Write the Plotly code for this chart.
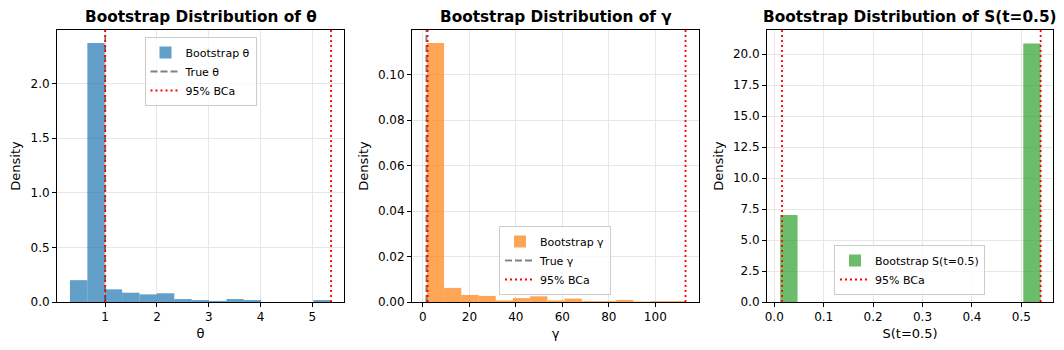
import plotly.graph_objects as go

# ---------------- data ----------------
# Panel 1: theta
theta_lo, theta_hi = 0.32, 5.355
theta_density = [0.20, 2.37, 0.116, 0.085, 0.070, 0.080, 0.027, 0.018, 0.010, 0.027, 0.018, 0.0, 0.0, 0.0, 0.018]
theta_true = 1.0
theta_bca = [1.0, 5.36]

# Panel 2: gamma
gamma_lo, gamma_hi = 1.7, 112.8
gamma_density = [0.1140, 0.0062, 0.0031, 0.0027, 0.0007, 0.0017, 0.0025, 0.0007, 0.0015, 0.0004, 0.0004, 0.0009, 0.0002, 0.0004, 0.0004]
gamma_true = 1.5
gamma_bca = [2.0, 113.0]

# Panel 3: S(t=0.5)
s_lo, s_hi = 0.012, 0.539
s_density = [7.02, 0, 0, 0, 0, 0, 0, 0, 0, 0, 0, 0, 0, 0, 20.86]
s_bca = [0.0157, 0.539]

n_bins = 15

panels = [
    dict(lo=theta_lo, hi=theta_hi, dens=theta_density, true=theta_true, bca=theta_bca,
         sym="θ", title="Bootstrap Distribution of θ", color="rgba(31,119,180,0.7)",
         xr=[0.07, 5.61], yr=[0, 2.49], xt=[1, 2, 3, 4, 5], xfmt="d",
         yt=[0, 0.5, 1.0, 1.5, 2.0], yfmt=".1f", dom=[57, 344],
         leg=dict(x=200.5, y=37, xanchor="center", yanchor="top")),
    dict(lo=gamma_lo, hi=gamma_hi, dens=gamma_density, true=gamma_true, bca=gamma_bca,
         sym="γ", title="Bootstrap Distribution of γ", color="rgba(255,127,14,0.7)",
         xr=[-4.7, 118.8], yr=[0, 0.1197], xt=[0, 20, 40, 60, 80, 100], xfmt="d",
         yt=[0, 0.02, 0.04, 0.06, 0.08, 0.10], yfmt=".2f", dom=[412, 699],
         leg=dict(x=555, y=295, xanchor="center", yanchor="bottom")),
    dict(lo=s_lo, hi=s_hi, dens=s_density, true=None, bca=s_bca,
         sym="S(t=0.5)", title="Bootstrap Distribution of S(t=0.5)", color="rgba(44,160,44,0.7)",
         xr=[-0.0147, 0.564], yr=[0, 21.94], xt=[0, 0.1, 0.2, 0.3, 0.4, 0.5], xfmt=".1f",
         yt=[0, 2.5, 5, 7.5, 10, 12.5, 15, 17.5, 20], yfmt=".1f", dom=[767, 1053],
         leg=dict(x=909.5, y=295, xanchor="center", yanchor="bottom")),
]

W, H = 1064, 350
L, R, T, B = 57, 1053, 30, 302   # plot area in pixels
PW, PH = R - L, B - T
FONT = "DejaVu Sans"


def px_x(px):
    return (px - L) / PW


def px_y(py):
    return (B - py) / PH


fig = go.Figure()
layout = dict(
    width=W, height=H,
    margin=dict(l=L, r=W - R, t=T, b=H - B, autoexpand=False),
    plot_bgcolor="white", paper_bgcolor="white",
    font=dict(family=FONT, size=12, color="black"),
    barmode="overlay", annotations=[],
)

for i, p in enumerate(panels):
    k = "" if i == 0 else str(i + 1)
    xa, ya = "x" + k, "y" + k
    legname = "legend" + k
    w = (p["hi"] - p["lo"]) / n_bins
    centers = [p["lo"] + (j + 0.5) * w for j in range(n_bins)]
    fig.add_trace(go.Bar(
        x=centers, y=p["dens"], width=[w] * n_bins,
        marker=dict(color=p["color"], line=dict(width=0)),
        name="Bootstrap " + p["sym"], xaxis=xa, yaxis=ya, legend=legname,
    ))
    ytop = p["yr"][1]
    if p["true"] is not None:
        fig.add_trace(go.Scatter(
            x=[p["true"], p["true"]], y=[0, ytop], mode="lines",
            line=dict(color="rgba(0,0,0,0.5)", width=1.8, dash="7px,3px"),
            name="True " + p["sym"], xaxis=xa, yaxis=ya, legend=legname,
        ))
    for j, b in enumerate(p["bca"]):
        fig.add_trace(go.Scatter(
            x=[b, b], y=[0, ytop], mode="lines",
            line=dict(color="red", width=1.8, dash="2px,3px"),
            name="95% BCa", showlegend=(j == 0), xaxis=xa, yaxis=ya, legend=legname,
        ))

    axis_common = dict(
        showline=True, linecolor="black", linewidth=1, mirror=True,
        ticks="outside", ticklen=4, tickwidth=1, tickcolor="black",
        showgrid=True, gridcolor="#e6e6e6", gridwidth=1, zeroline=False,
        tickfont=dict(family=FONT, size=12, color="black"),
        automargin=False,
    )
    layout["xaxis" + k] = dict(
        axis_common, domain=[px_x(p["dom"][0]), px_x(p["dom"][1])],
        range=p["xr"], tickvals=p["xt"], tickformat=p["xfmt"],
        anchor=ya,
        title=dict(text=p["sym"], font=dict(family=FONT, size=13), standoff=5),
    )
    layout["yaxis" + k] = dict(
        axis_common, domain=[0, 1],
        range=p["yr"], tickvals=p["yt"], tickformat=p["yfmt"],
        anchor=xa,
        title=dict(text="Density", font=dict(family=FONT, size=13), standoff=6),
    )
    lg = p["leg"]
    layout[legname] = dict(
        x=px_x(lg["x"]), y=px_y(lg["y"]), xanchor=lg["xanchor"], yanchor=lg["yanchor"],
        xref="paper", yref="paper",
        bgcolor="rgba(255,255,255,0.8)", bordercolor="#cccccc", borderwidth=1,
        font=dict(family=FONT, size=11, color="black"),
        tracegroupgap=0, itemwidth=30,
    )
    layout["annotations"].append(dict(
        text="<b>" + p["title"] + "</b>", x=px_x((p["dom"][0] + p["dom"][1]) / 2),
        y=px_y(17), xref="paper", yref="paper", xanchor="center", yanchor="middle",
        showarrow=False, font=dict(family=FONT, size=15.3, color="black"),
    ))

fig.update_layout(**layout)
fig.write_html("out.html", config={"displayModeBar": False},
               post_script="document.body.style.margin='0';")
